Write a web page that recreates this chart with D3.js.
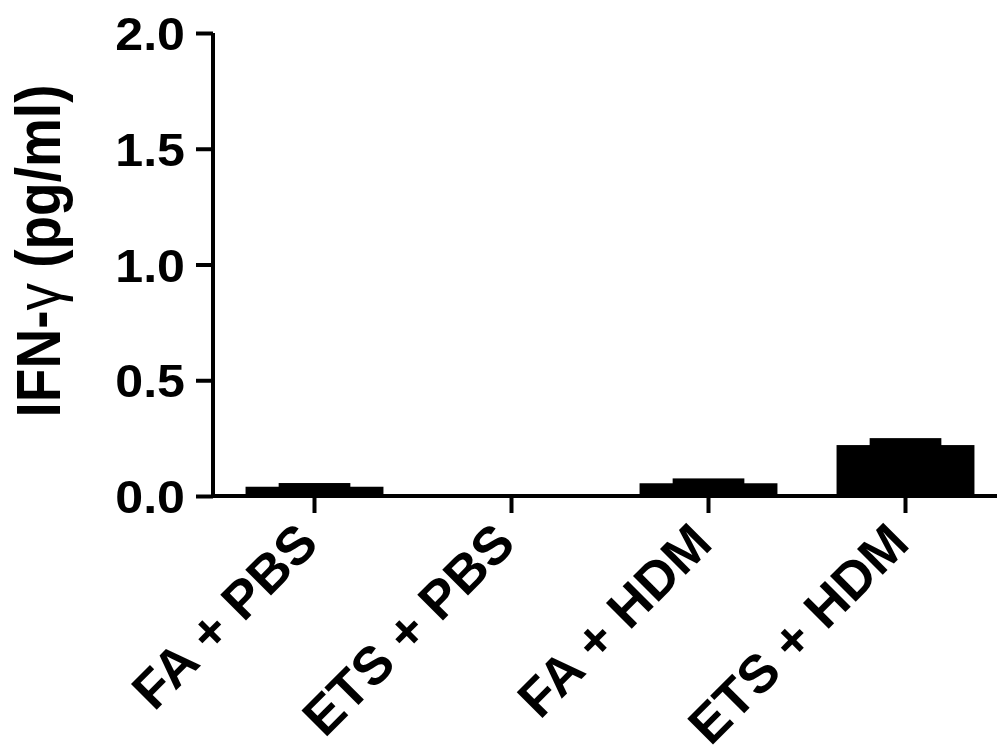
<!DOCTYPE html>
<html>
<head>
<meta charset="utf-8">
<script src="https://cdn.jsdelivr.net/npm/d3@7"></script>
<style>
  body { margin: 0; background: #fff; }
  text { font-family: "Liberation Sans", Arial, sans-serif; font-weight: bold; fill: #000; }
</style>
</head>
<body>
<div id="chart"></div>
<script>
// groups and values
const categories = ["FA + PBS", "ETS + PBS", "FA + HDM", "ETS + HDM"];
const means = [0.04, 0.0, 0.055, 0.22];
const errors = [0.016, 0.0, 0.021, 0.03];
const yTicks = [0, 0.5, 1.0, 1.5, 2.0];
const yLabel = "IFN-";

const width = 997, height = 755;
const x0 = 213, yZero = 496, yTop = 33;
const stretch = 1.09; // source figure is a bit wide

const svg = d3.select("#chart").append("svg")
    .attr("width", width)
    .attr("height", height);

const x = d3.scaleBand()
    .domain(categories)
    .range([216, 1004])
    .paddingInner(0.3)
    .paddingOuter(0.15);

const y = d3.scaleLinear()
    .domain([0, 2])
    .range([yZero, yTop]);

const data = categories.map((c, i) => ({cat: c, mean: means[i], err: errors[i]}));

// bars
svg.append("g").selectAll("rect.bar")
    .data(data)
    .join("rect")
    .attr("class", "bar")
    .attr("x", d => x(d.cat))
    .attr("width", x.bandwidth())
    .attr("y", d => y(d.mean))
    .attr("height", d => yZero - y(d.mean))
    .attr("fill", "#000");

// error caps, drawn as the thick block on top of each bar
svg.append("g").selectAll("rect.err")
    .data(data.filter(d => d.err > 0))
    .join("rect")
    .attr("class", "err")
    .attr("x", d => x(d.cat) + x.bandwidth() * 0.24)
    .attr("width", x.bandwidth() * 0.52)
    .attr("y", d => y(d.mean + d.err))
    .attr("height", d => y(d.mean) - y(d.mean + d.err) + 1)
    .attr("fill", "#000");

// y axis
const yAxis = svg.append("g")
    .attr("transform", `translate(${x0},0)`)
    .call(d3.axisLeft(y).tickValues(yTicks).tickFormat(d3.format(".1f")).tickSize(17).tickPadding(0));

yAxis.select(".domain")
    .attr("d", `M0,${yTop}V${yZero}`)
    .attr("stroke", "#000")
    .attr("stroke-width", 4);
yAxis.selectAll(".tick line").attr("stroke", "#000").attr("stroke-width", 4);
yAxis.selectAll(".tick text")
    .attr("x", null)
    .attr("dy", "0.36em")
    .attr("transform", `translate(-28,0) scale(${stretch},1)`)
    .style("font-size", "46px")
    .style("font-weight", "bold")
    .style("font-family", "'Liberation Sans', Arial, sans-serif");

// x axis
const xAxis = svg.append("g")
    .attr("transform", `translate(0,${yZero})`)
    .call(d3.axisBottom(x).tickSize(17).tickSizeOuter(0));

xAxis.select(".domain")
    .attr("d", `M${x0},0H${width}`)
    .attr("stroke", "#000")
    .attr("stroke-width", 4);
xAxis.selectAll(".tick line").attr("stroke", "#000").attr("stroke-width", 4);
xAxis.selectAll(".tick text")
    .attr("y", null)
    .attr("dy", null)
    .attr("text-anchor", "end")
    .attr("transform", "translate(6,50) rotate(-45)")
    .style("font-size", "53px")
    .style("font-weight", "bold")
    .style("font-family", "'Liberation Sans', Arial, sans-serif");

// y label
const lab = svg.append("text")
    .attr("transform", `translate(60,251) scale(1.15,1) rotate(-90)`)
    .attr("text-anchor", "middle")
    .style("font-size", "55px");
lab.append("tspan").text(yLabel);
lab.append("tspan").style("font-weight", "normal").text("\u03B3");
lab.append("tspan").text(" (pg/ml)");
</script>
</body>
</html>
